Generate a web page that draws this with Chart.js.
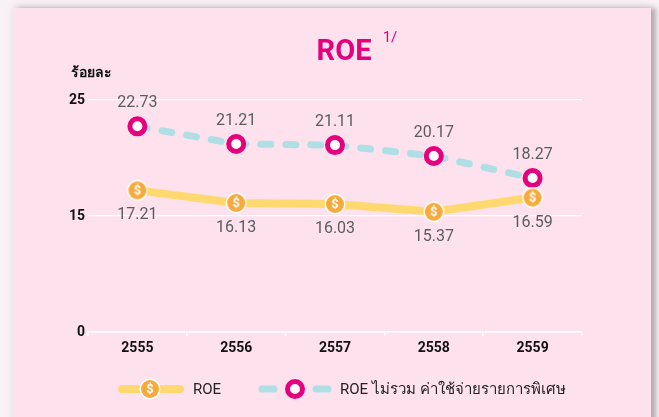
<!DOCTYPE html>
<html>
<head>
<meta charset="utf-8">
<script src="https://cdn.jsdelivr.net/npm/chart.js@4/dist/chart.umd.min.js"></script>
<style>
  html, body { margin: 0; padding: 0; background: #f8f1f5; }
  #wrap { position: relative; width: 659px; height: 417px; overflow: hidden; }
  #card {
    position: absolute; left: 13px; top: 8px; width: 638px; height: 430px;
    background: #fde2ee;
    box-shadow: 5px 0 5px rgba(110, 95, 105, 0.45), 0 -2px 8px rgba(120, 100, 115, 0.12);
  }
  #roe { position: absolute; left: 0; top: 0; }
</style>
</head>
<body>
<div id="wrap">
  <div id="card"></div>
  <canvas id="roe" width="659" height="417"></canvas>
</div>
<script>
// ข้อมูล ROE (ร้อยละ)
const years = ['2555', '2556', '2557', '2558', '2559'];
const roe = [17.21, 16.13, 16.03, 15.37, 16.59];
const roeExSpecial = [22.73, 21.21, 21.11, 20.17, 18.27];
const yTicks = [0, 15, 25];
const seriesNames = ['ROE', 'ROE ไม่รวม ค่าใช้จ่ายรายการพิเศษ'];

const FONT = 'Roboto, "Noto Sans", "Liberation Sans", sans-serif';
const YELLOW = '#ffd96f';
const ORANGE = '#f7a93b';
const BLUE = '#afdfe5';
const MAGENTA = '#e5007d';

// มาร์กเกอร์รูปเหรียญ $
function coinMarker() {
  const c = document.createElement('canvas');
  c.width = 22; c.height = 22;
  const g = c.getContext('2d');
  g.beginPath();
  g.arc(11, 11, 10.5, 0, Math.PI * 2);
  g.fillStyle = '#ffffff';
  g.fill();
  g.beginPath();
  g.arc(11, 11, 9, 0, Math.PI * 2);
  g.fillStyle = ORANGE;
  g.fill();
  g.fillStyle = '#ffffff';
  g.font = 'bold 13px ' + FONT;
  g.textAlign = 'center';
  g.textBaseline = 'middle';
  g.fillText('$', 11, 11.5);
  return c;
}
const coin = coinMarker();

// แกน y แบบหัก: 0-15 และ 15-25 ใช้ความสูงเท่ากัน
class BrokenScale extends Chart.LinearScale {
  getPixelForValue(value) {
    const mid = (this.top + this.bottom) / 2;
    if (value >= 15) return mid - (value - 15) / 10 * (mid - this.top);
    return this.bottom - value / 15 * (this.bottom - mid);
  }
  getValueForPixel(pixel) {
    const mid = (this.top + this.bottom) / 2;
    if (pixel <= mid) return 15 + (mid - pixel) / (mid - this.top) * 10;
    return (this.bottom - pixel) / (this.bottom - mid) * 15;
  }
}
BrokenScale.id = 'broken';
BrokenScale.defaults = Chart.LinearScale.defaults;
Chart.register(BrokenScale);

const decor = {
  id: 'decor',
  afterDraw(chart) {
    const ctx = chart.ctx;
    ctx.save();
    // หัวเรื่อง
    ctx.fillStyle = MAGENTA;
    ctx.font = 'bold 29px ' + FONT;
    ctx.textAlign = 'center';
    ctx.textBaseline = 'alphabetic';
    ctx.fillText('ROE', 344, 60);
    ctx.font = '15px ' + FONT;
    ctx.fillText('1/', 390, 42);

    ctx.fillStyle = '#111';
    ctx.font = 'bold 14px "Noto Sans", sans-serif';
    ctx.textAlign = 'left';
    ctx.fillText('ร้อยละ', 71, 77);

    // ป้ายค่า
    ctx.font = '16px ' + FONT;
    ctx.fillStyle = '#5c5c5c';
    ctx.textAlign = 'center';
    ctx.textBaseline = 'middle';
    chart.getDatasetMeta(1).data.forEach((p, i) => {
      ctx.fillText(roeExSpecial[i].toFixed(2), p.x, p.y - 23);
    });
    chart.getDatasetMeta(0).data.forEach((p, i) => {
      ctx.fillText(roe[i].toFixed(2), p.x, p.y + 25);
    });

    // คำอธิบาย
    const ly = 389;
    ctx.lineCap = 'round';
    ctx.strokeStyle = YELLOW;
    ctx.lineWidth = 8;
    ctx.beginPath();
    ctx.moveTo(122, ly); ctx.lineTo(180, ly);
    ctx.stroke();
    ctx.drawImage(coin, 150 - 11, ly - 11);

    ctx.strokeStyle = BLUE;
    ctx.lineWidth = 7;
    ctx.beginPath();
    ctx.moveTo(262, ly); ctx.lineTo(274, ly);
    ctx.moveTo(316, ly); ctx.lineTo(328, ly);
    ctx.stroke();
    ctx.beginPath();
    ctx.arc(295, ly, 7.5, 0, Math.PI * 2);
    ctx.fillStyle = '#fff';
    ctx.fill();
    ctx.lineWidth = 5;
    ctx.strokeStyle = MAGENTA;
    ctx.stroke();

    ctx.fillStyle = '#222';
    ctx.font = '15px ' + FONT;
    ctx.textAlign = 'left';
    ctx.fillText(seriesNames[0], 193, ly + 1);
    ctx.fillText(seriesNames[1], 340, ly + 1);
    ctx.restore();
  }
};

new Chart(document.getElementById('roe'), {
  type: 'line',
  data: {
    labels: years,
    datasets: [
      {
        label: seriesNames[0],
        data: roe,
        borderColor: YELLOW,
        borderWidth: 8,
        borderCapStyle: 'round',
        pointStyle: coin,
        pointRadius: 11,
        tension: 0,
      },
      {
        label: seriesNames[1],
        data: roeExSpecial,
        borderColor: BLUE,
        borderWidth: 7,
        borderDash: [10, 15],
        borderCapStyle: 'round',
        pointRadius: 7.5,
        pointBorderWidth: 5,
        pointBackgroundColor: '#ffffff',
        pointBorderColor: MAGENTA,
        tension: 0,
      },
    ],
  },
  options: {
    responsive: false,
    animation: false,
    layout: { padding: { left: 50, right: 77, top: 100, bottom: 55 } },
    plugins: { legend: { display: false }, tooltip: { enabled: false } },
    scales: {
      x: {
        offset: true,
        afterFit(s) { s.height = 30; },
        border: { color: '#ffffff', width: 1.5 },
        grid: { offset: true, drawOnChartArea: false, color: '#ffffff', tickLength: 4, lineWidth: 1.5 },
        ticks: { color: '#111', font: { family: FONT, size: 14, weight: 'bold' }, padding: 4 },
      },
      y: {
        type: 'broken',
        min: 0,
        max: 25,
        afterFit(s) { s.width = 38; },
        afterBuildTicks(s) { s.ticks = yTicks.map(v => ({ value: v })); },
        border: { display: false },
        grid: { color: '#ffffff', lineWidth: 1.2, drawTicks: false },
        ticks: { color: '#111', font: { family: FONT, size: 14, weight: 'bold' }, padding: 3 },
      },
    },
  },
  plugins: [decor],
});
</script>
</body>
</html>
